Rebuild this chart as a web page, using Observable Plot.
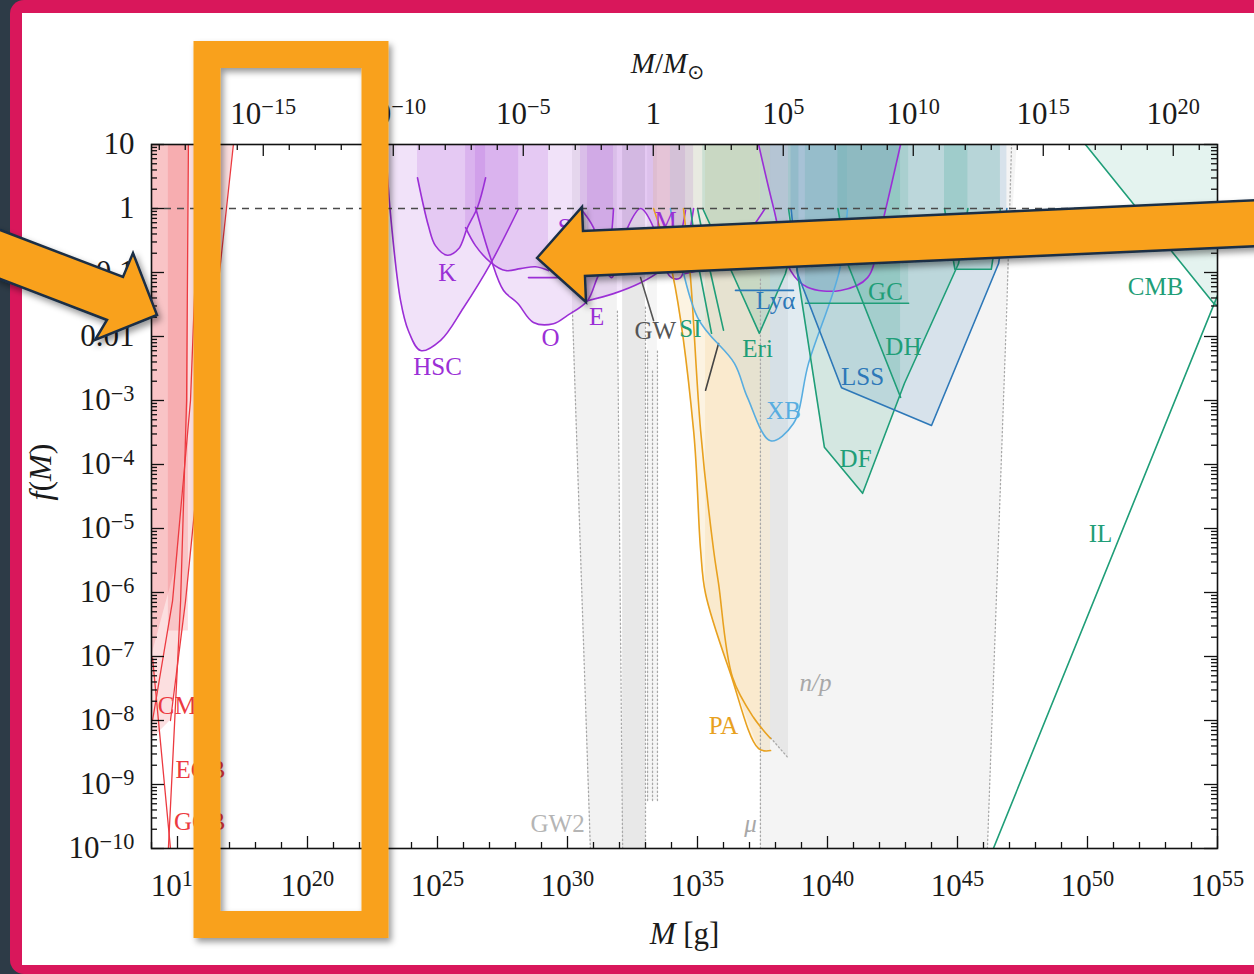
<!DOCTYPE html>
<html><head><meta charset="utf-8">
<script src="https://cdn.jsdelivr.net/npm/d3@7"></script>
<script src="https://cdn.jsdelivr.net/npm/@observablehq/plot@0.6"></script>
<style>
html,body{margin:0;padding:0;width:1254px;height:974px;overflow:hidden;background:#2d3b47;}
#frame{position:absolute;left:10px;top:0;width:1300px;height:974px;background:#d9175b;border-radius:14px 0 0 14px;}
#white{position:absolute;left:22px;top:13px;width:1260px;height:952px;background:#fff;}
#chart{position:absolute;left:0;top:0;}
#anno{position:absolute;left:0;top:0;pointer-events:none;}
</style></head><body>
<div id="frame"></div><div id="white"></div><div id="chart"></div>
<svg id="anno" width="1254" height="974" viewBox="0 0 1254 974">
 <defs><filter id="sh" x="-20%" y="-20%" width="140%" height="140%"><feDropShadow dx="3" dy="4" stdDeviation="3" flood-color="#000" flood-opacity="0.4"/></filter></defs>
 <rect x="207" y="54.5" width="168" height="870" fill="none" stroke="#f9a11b" stroke-width="27" filter="url(#sh)"/>
 <polygon points="-5,228 123,277 133,253 157,315 95,340 107,320 -5,277" fill="#f9a11b" stroke="#1a2f45" stroke-width="2.5" stroke-linejoin="miter" filter="url(#sh)"/>
 <polygon points="537,258 582,207 583,231 1260,200 1260,246 585,276 586,302" fill="#f9a11b" stroke="#1a2f45" stroke-width="2.5" stroke-linejoin="miter" filter="url(#sh)"/>
</svg>
<script>
// ---- data: [log10 M/g, log10 f] ----
const redA = [[14.73,-8.0],[15.31,-6.13],[16.08,-3.0],[17.15,1]];
const redB = [[14.65,-10],[15.12,-6.13],[15.35,-3.0],[15.42,1]];
const redC = [[14.04,-8.0],[14.81,-6.13],[15.5,-3.0],[15.88,1]];
const redD = [[14.04,-7.02],[14.73,-10]];
const redFillA = [[14,-8.3],[14.73,-8.0],[15.31,-6.13],[16.08,-3.0],[17.15,1]];
const redFillB = [[14,-7.0],[15.0,-5.5],[15.42,-3.0]];
const redFillC = [[14.65,-6.6],[15.42,-6.6]];

const HSC = [[23.0,1],[23.19,-0.08],[23.58,-1.44],[23.88,-1.91],[24.35,-2.22],[25.12,-2.06],[26.0,-1.55],[27.04,-0.86],[28.12,0]];
const Kep = [[24.23,0.48],[24.65,-0.27],[24.92,-0.58],[25.38,-0.73],[25.81,-0.63],[26.15,-0.3],[26.54,0.02],[26.85,0.48]];
const OGLE = [[26.46,0.02],[27.04,-0.77],[27.54,-1.28],[28.08,-1.48],[28.69,-1.78],[29.46,-1.8],[30.0,-1.67],[30.77,-1.44],[31.15,-1.08],[31.54,-0.77],[31.77,0]];
const EROS = [[30.77,-1.44],[31.77,-1.33],[32.81,-1.16],[33.58,-0.97],[34.08,-0.77],[34.54,-0.03]];
const SL = [[26.08,-0.3],[26.46,-0.58],[27.04,-0.84],[27.62,-0.97],[28.19,-0.94],[28.77,-0.91],[29.27,-0.97]];
const SLflat = [[28.5,-1.08],[29.62,-1.08]];
const MACHO = [[30.5,0],[31.0,-0.3],[31.4,-0.9],[31.7,-1.08],[32.1,-0.6],[32.31,-0.3],[32.81,0],[33.31,-0.3],[33.6,-0.8],[34.0,-1.08],[34.35,-1.08],[34.6,-0.6],[34.85,0]];
const purpleU = [[37.35,1],[37.92,0.02],[38.58,-0.97],[39.23,-1.23],[40.5,-1.28],[41.54,-1.08],[42.04,-0.34],[42.81,1]];
const purpleRise = [[34.5,-1.02],[35.5,-0.9],[36.6,-0.55],[37.6,0]];

// gray strips: [log f, log M left, log M right]
const GW2a = [[-10,30.88,32.12],[-1.6,30.19,31.92],[1,30.19,31.92]];
const GW2b = [[-10,32.12,33.0],[1,32.12,33.0]];
const GW2c = [[-9.25,33.08,33.46],[1,33.08,33.46]];
const muRegion = [[-10,37.42,46.15],[-1.5,37.42,46.9],[1,37.42,47.3]];
const npRegion = [[37.81,-8.27],[38.5,-8.59]];
const dotted1 = [[30.88,-10],[30.19,-1.6]];
const dotted2 = [[32.12,-10],[31.92,-1.6]];
const dotted3 = [[33.0,-10],[33.0,-1.5]];
const dotted4 = [[33.08,-9.25],[33.08,-2.2]];
const dotted5 = [[33.27,-9.25],[33.27,-2.5]];
const dotted6 = [[33.46,-9.25],[33.46,-2.2]];
const dotted7 = [[37.42,-10],[37.42,-1.1]];
const dotted8 = [[46.15,-10],[46.9,-1.5],[47.08,1]];
const dotted9 = [[37.81,-8.27],[38.5,-8.59]];
const GWcurve = [[32.81,-1.08],[33.31,-1.75]];
const GWseg = [[35.31,-2.84],[35.81,-2.11]];

const PA1 = [[33.31,0],[34.04,-1.02],[34.85,-3.47],[35.12,-5.34],[35.31,-6.02],[36.27,-7.27],[37.35,-8.44],[37.81,-8.47]];
const PA2 = [[34.46,0],[34.73,-1.08],[35.12,-3.47],[35.62,-5.34],[35.81,-5.86],[36.35,-7.33],[37.15,-7.95],[37.81,-8.28]];
const PAband = [[35.31,-6.0],[36.27,-7.27],[37.35,-8.44],[37.42,-8.44]];

const SI1 = [[34.73,0],[35.04,-0.9],[35.54,-1.95]];
const SI2 = [[35.0,0],[35.5,-1.0],[36.0,-1.9]];
const Eri = [[35.2,0],[36.35,-1.02],[37.38,-1.95],[38.38,-1.02],[38.9,-0.2]];
const Lya = [[36.46,-1.28],[38.69,-1.28]];
const GC = [[39.15,-1.48],[43.12,-1.48]];
const DH = [[40.4,0],[40.77,-0.86],[42.81,-2.95]];
const DF = [[38.5,0],[38.85,-1.02],[39.88,-3.73],[41.35,-4.45],[42.96,-2.73],[45.04,-0.86],[45.4,0]];
const WB = [[44.5,0],[44.9,-0.95],[46.3,-0.95],[46.65,0]];
const LSS = [[38.6,0],[38.85,-1.02],[40.54,-2.8],[44.0,-3.39],[46.58,-0.86],[46.9,0]];
const XB = [[33.96,0],[35.0,-1.7],[36.42,-2.42],[36.92,-2.95],[37.81,-3.63],[38.69,-3.36],[39.27,-2.42],[40.46,-0.97],[40.77,0]];
const CMBg = [[49.92,1],[54.85,-1.48],[55,-1.52]];
const IL = [[46.38,-10],[55,-1.36]];

const labelText = ["HSC","K","O","E","SL","M","GW","SI","Eri","Lyα","GC","DH","LSS","XB","DF","CMB","IL","n/p","PA","GW2","μ","CMB","EGB","GCB"];
const labelM = [25.0,25.38,29.35,31.12,30.19,33.77,33.38,34.73,37.31,38.0,42.23,42.92,41.35,38.31,41.08,52.62,50.5,39.54,36.0,29.62,37.04,15.31,15.88,15.85];
const labelF = [-2.47,-1.0,-2.02,-1.7,-0.31,-0.19,-1.91,-1.88,-2.19,-1.44,-1.31,-2.17,-2.63,-3.17,-3.91,-1.23,-5.08,-7.41,-8.09,-9.61,-9.61,-7.78,-8.78,-9.59];
const labelGroup = ["purple","purple","purple","purple","purple","purple","gray","green","green","blue","green","green","blue","lblue","green","green","green","np","orange","lgray","np","red","red","red"];

const xLabelExps = [15,20,25,30,35,40,45,50,55];
const sunLabelExps = [-15,-10,-5,0,5,10,15,20];
const yLabelExps = [1,0,-1,-2,-3,-4,-5,-6,-7,-8,-9,-10];
const Msun = 1.989e33;

// ---- drawing ----
const col = {red:"#ec3a40", purple:"#9b2fd6", green:"#1f9e78", blue:"#2d78b8", lblue:"#58ade0", orange:"#e8a11f", gray:"#555555", lgray:"#b5b5b5", np:"#a8a8a8"};
const serif = "Liberation Serif";
const E = d => 10 ** d;
const W = 1254, H = 974, mL = 151, mR = 37, mT = 144, mB = 126;
const iw = W - mL - mR, ih = H - mT - mB;

const fillAbove = (p, c, o, curve = "linear") => Plot.areaY(p, {x: d => E(d[0]), y1: d => E(d[1]), y2: 10, fill: c, fillOpacity: o, curve, clip: true});
const strip = (p, o) => Plot.areaX(p, {y: d => E(d[0]), x1: d => E(d[1]), x2: d => E(d[2]), fill: "#000", fillOpacity: o, clip: true});
const line = (p, c, curve = "linear", extra = {}) => Plot.line(p, {x: d => E(d[0]), y: d => E(d[1]), stroke: c, strokeWidth: 1.6, curve, clip: true, ...extra});
const smooth = "catmull-rom";

const marks = [
  strip(GW2a, .05), strip(GW2b, .09), strip(GW2c, .04), strip(muRegion, .045),
  fillAbove(npRegion, "#000", .05),
  fillAbove(redFillA, col.red, .16), fillAbove(redFillB, col.red, .16), fillAbove(redFillC, col.red, .16),
  fillAbove(HSC, col.purple, .14, smooth), fillAbove(Kep, col.purple, .14, smooth), fillAbove(OGLE, col.purple, .14, smooth),
  fillAbove(EROS, col.purple, .14, smooth), fillAbove(SL, col.purple, .14, smooth), fillAbove(MACHO, col.purple, .14, smooth),
  fillAbove(purpleU, col.purple, .12, smooth),
  fillAbove(PA1, col.orange, .13, smooth), fillAbove(PAband, col.orange, .1),
  fillAbove(XB, col.lblue, .12, smooth), fillAbove(Eri, col.green, .14), fillAbove(DF, col.green, .15),
  fillAbove(DH, col.green, .15), fillAbove(WB, col.green, .18), fillAbove(LSS, col.blue, .14), fillAbove(GC, col.green, .12), fillAbove(CMBg, col.green, .12),
];
[dotted1,dotted2,dotted3,dotted4,dotted5,dotted6,dotted7,dotted8,dotted9].forEach(p =>
  marks.push(line(p, "#a9a9a9", "linear", {strokeWidth: 1.3, strokeDasharray: "1.3,2.7"})));
[redA, redB, redC, redD].forEach(p => marks.push(line(p, col.red, "linear", {strokeWidth: 1.3})));
[HSC, Kep, OGLE, EROS, SL, MACHO, purpleU].forEach(p => marks.push(line(p, col.purple, smooth)));
marks.push(line(SLflat, col.purple), line(purpleRise, col.purple, smooth));
marks.push(line(GWcurve, "#555"), line(GWseg, "#444"));
marks.push(line(PA1, col.orange, smooth), line(PA2, col.orange, smooth));
marks.push(line(XB, col.lblue, smooth));
[SI1, SI2, Eri, GC, DH, DF, WB, CMBg, IL].forEach(p => marks.push(line(p, col.green)));
[Lya, LSS].forEach(p => marks.push(line(p, col.blue)));

const labelIdx = d3.range(labelText.length);
const lab = {x: i => E(labelM[i]), y: i => E(labelF[i]), text: i => labelText[i], fill: i => col[labelGroup[i]],
  fontSize: 25, fontFamily: serif, lineAnchor: "middle", textAnchor: "middle"};
marks.push(Plot.text(labelIdx.filter(i => labelGroup[i] !== "np"), lab));
marks.push(Plot.text(labelIdx.filter(i => labelGroup[i] === "np"), {...lab, fontStyle: "italic"}));

marks.push(Plot.ruleY([1], {stroke: "#4a4a4a", strokeWidth: 1.7, strokeDasharray: "7,6"}));
marks.push(Plot.frame({stroke: "#111", strokeWidth: 1.6}));

// ticks
const xExps = d3.range(14, 56);
const sunExps = d3.range(-19, 22);
const yMajor = d3.range(-10, 2).map(E);
const yMinor = d3.range(-10, 1).flatMap(e => d3.range(2, 10).map(k => k * E(e)));
const xMaj = xExps.filter(e => e % 5 === 0).map(E), xMin = xExps.filter(e => e % 5 !== 0).map(E);
const sMaj = sunExps.filter(e => e % 5 === 0).map(e => Msun * E(e)), sMin = sunExps.filter(e => e % 5 !== 0).map(e => Msun * E(e));
const tk = {stroke: "#111", strokeWidth: 1.3};
marks.push(
  Plot.tickX(xMaj, {x: d => d, insetTop: ih - 12, ...tk}), Plot.tickX(xMin, {x: d => d, insetTop: ih - 6, ...tk}),
  Plot.tickX(sMaj, {x: d => d, insetBottom: ih - 12, ...tk}), Plot.tickX(sMin, {x: d => d, insetBottom: ih - 6, ...tk}),
  Plot.tickY(yMajor, {y: d => d, insetRight: iw - 13, ...tk}), Plot.tickY(yMinor, {y: d => d, insetRight: iw - 6, ...tk}),
  Plot.tickY(yMajor, {y: d => d, insetLeft: iw - 13, ...tk}), Plot.tickY(yMinor, {y: d => d, insetLeft: iw - 6, ...tk})
);
const mf = e => String(e).replace("-", "−");
const tl = {fontSize: 31, fontFamily: serif, fill: "#1a1a1a"};
marks.push(
  Plot.text(xLabelExps, {x: E, text: e => `10^${mf(e)}`, frameAnchor: "bottom", dy: 47, lineAnchor: "bottom", ...tl}),
  Plot.text(sunLabelExps, {x: e => Msun * E(e), text: e => e === 0 ? "1" : `10^${mf(e)}`, frameAnchor: "top", dy: -21, lineAnchor: "bottom", ...tl}),
  Plot.text(yLabelExps, {y: E, text: e => e === 1 ? "10" : e === 0 ? "1" : e === -1 ? "0.1" : e === -2 ? "0.01" : `10^${mf(e)}`,
    frameAnchor: "left", dx: -17, textAnchor: "end", lineAnchor: "middle", ...tl}),
  Plot.text(["M [g]"], {text: d => d, frameAnchor: "bottom", dy: 95, lineAnchor: "bottom", fontSize: 31, fontFamily: serif, fill: "#1a1a1a"}),
  Plot.text(["M/M⊙"], {text: d => d, frameAnchor: "top", dx: -17, dy: -72, lineAnchor: "bottom", fontSize: 29, fontFamily: serif, fill: "#1a1a1a"}),
  Plot.text(["f(M)"], {text: d => d, frameAnchor: "left", dx: -111, dy: 4, rotate: -90, lineAnchor: "middle", fontSize: 32, fontFamily: serif, fill: "#1a1a1a"})
);

const plot = Plot.plot({
  width: W, height: H, marginLeft: mL, marginRight: mR, marginTop: mT, marginBottom: mB,
  style: {background: "transparent", overflow: "visible", fontFamily: serif},
  x: {type: "log", domain: [1e14, 1e55], axis: null},
  y: {type: "log", domain: [1e-10, 10], axis: null},
  marks
});

const rich = {
  "M [g]": [["M","i"],[" [g]",""]],
  "M/M⊙": [["M","i"],["/",""],["M","i"],["⊙","sub"]],
  "f(M)": [["f","i"],["(",""],["M","i"],[")",""]]
};
d3.select(plot).selectAll("text").each(function () {
  const t = this.textContent, sel = d3.select(this);
  const m = /^10\^(.+)$/.exec(t);
  if (m) {
    sel.text(null);
    sel.append("tspan").text("10");
    sel.append("tspan").attr("dy", "-0.42em").attr("font-size", "0.72em").text(m[1]);
  } else if (rich[t]) {
    sel.text(null);
    rich[t].forEach(([s, st]) => {
      const ts = sel.append("tspan").text(s);
      if (st === "i") ts.attr("font-style", "italic");
      if (st === "sub") ts.attr("dy", "0.3em").attr("font-size", "0.7em").attr("font-family", "DejaVu Sans");
    });
  }
});
document.getElementById("chart").appendChild(plot);
</script>
</body></html>
